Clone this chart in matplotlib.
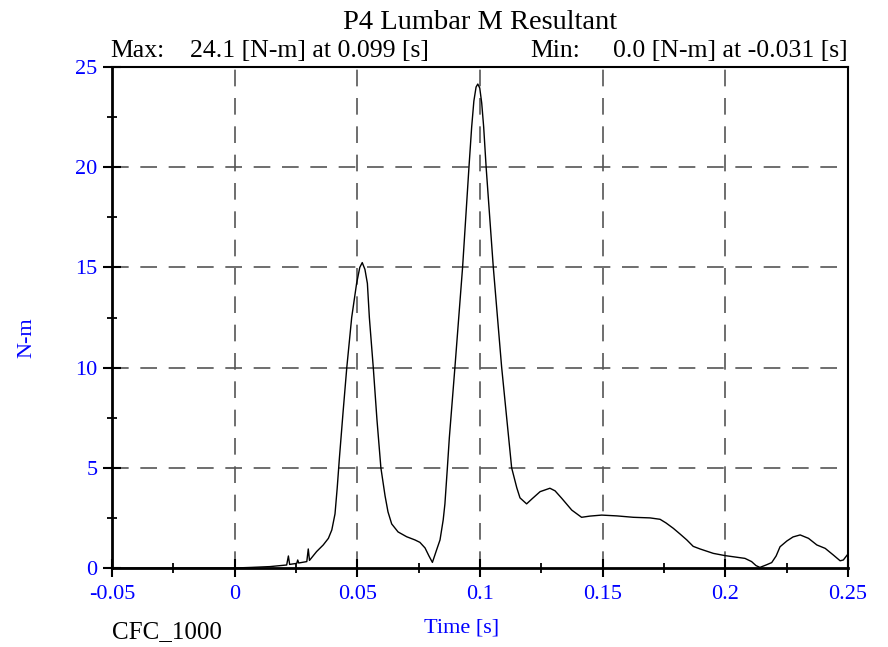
import matplotlib
matplotlib.use("Agg")
import matplotlib.pyplot as plt
from matplotlib.ticker import MultipleLocator
import numpy as np

plt.rcParams['font.family'] = ['Liberation Serif', 'DejaVu Serif']

# values (time [s], moment [N-m])
time_s = [-0.05, -0.031, 0.0, 0.0069, 0.0144, 0.0212, 0.0219, 0.0224, 0.0253, 0.0257,
          0.0261, 0.0294, 0.0300, 0.0305, 0.0334, 0.0361, 0.0382, 0.0396, 0.0409, 0.0418,
          0.0427, 0.0442, 0.0457, 0.0477, 0.0497, 0.0510, 0.0520, 0.0531, 0.0541, 0.0549,
          0.0565, 0.0580, 0.0596, 0.0613, 0.0625, 0.0640, 0.0666, 0.0701, 0.0735, 0.0755,
          0.0776, 0.0792, 0.0806, 0.0823, 0.0837, 0.0850, 0.0857, 0.0867, 0.0875, 0.0898,
          0.0929, 0.0955, 0.0966, 0.0975, 0.0984, 0.0991, 0.0999, 0.1007, 0.1015, 0.1025,
          0.1054, 0.1088, 0.1129, 0.1150, 0.1163, 0.1190, 0.1212, 0.1245, 0.1285, 0.1306,
          0.1333, 0.1374, 0.1414, 0.1448, 0.1496, 0.1558, 0.1625, 0.1693, 0.1734, 0.1758,
          0.1788, 0.1815, 0.1843, 0.1869, 0.1897, 0.1951, 0.1998, 0.2080, 0.2107, 0.2125,
          0.2141, 0.2166, 0.2189, 0.2207, 0.2223, 0.2251, 0.2276, 0.2305, 0.2339, 0.2373,
          0.2407, 0.2440, 0.2468, 0.2481, 0.2500]
moment_nm = [0.0, 0.0, 0.0, 0.03, 0.07, 0.15, 0.6, 0.18, 0.23, 0.4,
             0.25, 0.32, 0.95, 0.38, 0.82, 1.15, 1.48, 1.9, 2.7, 4.0,
             5.5, 7.8, 10.0, 12.5, 14.2, 15.0, 15.24, 14.9, 14.2, 12.5,
             10.0, 7.4, 5.0, 3.6, 2.8, 2.2, 1.8, 1.56, 1.4, 1.28,
             1.0, 0.6, 0.28, 0.9, 1.4, 2.4, 3.2, 5.0, 6.5, 10.05,
             15.0, 20.0, 22.0, 23.3, 24.0, 24.15, 23.95, 23.2, 22.0, 20.0,
             15.04, 10.05, 5.0, 4.0, 3.5, 3.2, 3.45, 3.81, 3.98, 3.85,
             3.48, 2.89, 2.53, 2.59, 2.64, 2.6, 2.53, 2.5, 2.43, 2.25,
             1.98, 1.7, 1.4, 1.08, 0.95, 0.73, 0.62, 0.48, 0.32, 0.12,
             0.03, 0.15, 0.27, 0.6, 1.06, 1.35, 1.55, 1.65, 1.48, 1.15,
             0.98, 0.65, 0.36, 0.4, 0.7]

max_val, max_t = 24.1, 0.099
min_val, min_t = 0.0, -0.031
x_ticks = [-0.05, 0, 0.05, 0.1, 0.15, 0.2, 0.25]
x_labels = ['-0.05', '0', '0.05', '0.1', '0.15', '0.2', '0.25']
y_ticks = [0, 5, 10, 15, 20, 25]

W, H = 888, 647
fig = plt.figure(figsize=(W / 100, H / 100), dpi=100)
ax = fig.add_axes([112 / W, 1 - 568 / H, 736 / W, 501 / H])

ax.plot(time_s, moment_nm, color='black', lw=1.0, zorder=3)

ax.set_xlim(-0.05, 0.25)
ax.set_ylim(0, 25)
ax.set_xticks(x_ticks)
ax.set_xticklabels(x_labels)
ax.set_yticks(y_ticks)
ax.xaxis.set_minor_locator(MultipleLocator(0.025))
ax.yaxis.set_minor_locator(MultipleLocator(2.5))

# dashed grid only at interior majors
for xv in x_ticks[1:-1]:
    ax.axvline(xv, color='#555555', lw=1.2, dashes=(10, 7), zorder=1)
for yv in y_ticks[1:-1]:
    ax.axhline(yv, color='#555555', lw=1.2, dashes=(10, 7), zorder=1)

ax.tick_params(which='major', direction='inout', length=13, width=1.5,
               labelsize=16, labelcolor='blue', pad=4)
ax.tick_params(which='minor', direction='inout', length=7, width=1.3)
ax.tick_params(axis='x', which='major', pad=6)
for s in ax.spines.values():
    s.set_linewidth(1.5)
ax.spines['left'].set_linewidth(2)
ax.spines['bottom'].set_linewidth(2)

fig.text(480 / W, 1 - 29 / H, 'P4 Lumbar M Resultant', ha='center', va='baseline', fontsize=20.5)
fig.text(110 / W, 1 - 57 / H, 'Max:', ha='left', va='baseline', fontsize=18.5)
fig.text(190 / W, 1 - 57 / H, f'{max_val:.1f} [N-m] at {max_t:.3f} [s]', ha='left', va='baseline', fontsize=18.5)
fig.text(530 / W, 1 - 57 / H, 'Min:', ha='left', va='baseline', fontsize=18.5)
fig.text(848 / W, 1 - 57 / H, f'{min_val:.1f} [N-m] at {min_t:.3f} [s]', ha='right', va='baseline', fontsize=18.5)
fig.text(112 / W, 1 - 638 / H, 'CFC_1000', ha='left', va='baseline', fontsize=18)
fig.text(462 / W, 1 - 633 / H, 'Time [s]', ha='center', va='baseline', fontsize=16, color='blue')
fig.text(27 / W, 1 - 338 / H, 'N-m', ha='center', va='center', rotation=90, fontsize=16, color='blue')

fig.savefig('out.png', dpi=100)
